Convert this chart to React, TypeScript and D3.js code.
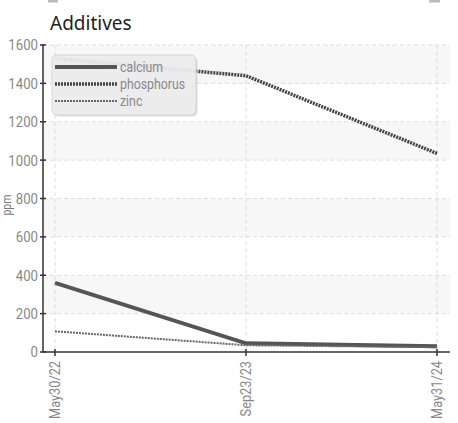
import { useEffect, useRef } from 'react'
import * as d3 from 'd3'

const dates = ['May30/22', 'Sep23/23', 'May31/24']
const calcium = [360, 45, 30]
const phosphorus = [1530, 1440, 1035]
const zinc = [108, 35, 25]
const yTicks = [0, 200, 400, 600, 800, 1000, 1200, 1400, 1600]

const series = [
	{ name: 'calcium', values: calcium, width: 4, dash: null, color: '#555' },
	{ name: 'phosphorus', values: phosphorus, width: 3.5, dash: '2,1', color: '#444' },
	{ name: 'zinc', values: zinc, width: 2, dash: '2,1', color: '#666' },
]

const labelFont = "Roboto, 'Noto Sans', sans-serif"
// squeeze Roboto so it reads like the condensed face of the original
const squeeze = 0.88

export default function App() {
	const ref = useRef(null)

	const margins = { top: 45, right: 8, bottom: 71, left: 43 }
	const width = 458
	const height = 423
	const plotBottom = height - margins.bottom
	const plotRight = width - margins.right

	useEffect(() => {
		const svg = d3.select(ref.current)
		svg.selectAll('*').remove()

		const x = d3.scalePoint().domain(dates).range([55, 437])
		const y = d3.scaleLinear().domain([0, 1600]).range([plotBottom, margins.top])

		const narrowText = (parent: any, tx: number, ty: number, size: number, rotate = 0) =>
			parent
				.append('text')
				.attr(
					'transform',
					'translate(' + tx + ',' + ty + ')' + (rotate ? ' rotate(' + rotate + ')' : '') + ' scale(' + squeeze + ',1)'
				)
				.style('font', size + 'px ' + labelFont)

		// faint bars at the very top
		svg.append('rect').attr('x', 48).attr('y', 0).attr('width', 10).attr('height', 2.5).attr('fill', '#bbb')
		svg.append('rect').attr('x', 429).attr('y', 0).attr('width', 11).attr('height', 2.5).attr('fill', '#bbb')

		// title
		svg
			.append('text')
			.attr('x', 50)
			.attr('y', 30)
			.style('font', "19px 'Noto Sans', sans-serif")
			.attr('fill', '#222')
			.text('Additives')

		// alternating bands
		const bands = d3.range(0, yTicks.length - 1).filter((i) => i % 2 === 1)
		svg
			.append('g')
			.selectAll('rect')
			.data(bands)
			.enter()
			.append('rect')
			.attr('x', margins.left)
			.attr('y', (i) => y(yTicks[i + 1]))
			.attr('width', plotRight - margins.left)
			.attr('height', (i) => y(yTicks[i]) - y(yTicks[i + 1]))
			.attr('fill', '#f7f7f7')

		// grid
		svg
			.append('g')
			.selectAll('line')
			.data(yTicks.slice(1))
			.enter()
			.append('line')
			.attr('x1', margins.left)
			.attr('x2', plotRight)
			.attr('y1', (d) => y(d))
			.attr('y2', (d) => y(d))
			.attr('stroke', '#ddd')
			.attr('stroke-dasharray', '4,3')
		svg
			.append('g')
			.selectAll('line')
			.data(dates)
			.enter()
			.append('line')
			.attr('x1', (d) => x(d))
			.attr('x2', (d) => x(d))
			.attr('y1', margins.top)
			.attr('y2', plotBottom)
			.attr('stroke', '#ddd')
			.attr('stroke-dasharray', '4,3')

		// lines
		const line = d3
			.line<number>()
			.x((_, i) => x(dates[i]))
			.y((d) => y(d))
		series.forEach((s) => {
			svg
				.append('path')
				.datum(s.values)
				.attr('d', line)
				.attr('fill', 'none')
				.attr('stroke', s.color)
				.attr('stroke-width', s.width)
				.attr('stroke-dasharray', s.dash)
		})

		// y axis
		const yAxis = svg.append('g')
		yAxis
			.append('line')
			.attr('x1', margins.left)
			.attr('x2', margins.left)
			.attr('y1', margins.top - 1)
			.attr('y2', plotBottom)
			.attr('stroke', '#333')
			.attr('stroke-width', 1.5)
		yTicks.forEach((t) => {
			yAxis
				.append('line')
				.attr('x1', margins.left - 3)
				.attr('x2', margins.left + 3)
				.attr('y1', y(t))
				.attr('y2', y(t))
				.attr('stroke', '#333')
				.attr('stroke-width', 1.5)
			narrowText(yAxis, margins.left - 5, y(t), 15)
				.attr('dy', '0.36em')
				.style('text-anchor', 'end')
				.attr('fill', '#888')
				.text(t)
		})

		// y label
		narrowText(svg, 11, 205, 12, -90)
			.style('text-anchor', 'middle')
			.attr('fill', '#777')
			.text('ppm')

		// x axis
		const xAxis = svg.append('g')
		xAxis
			.append('line')
			.attr('x1', margins.left)
			.attr('x2', plotRight)
			.attr('y1', plotBottom)
			.attr('y2', plotBottom)
			.attr('stroke', '#333')
			.attr('stroke-width', 1.5)
		dates.forEach((d) => {
			xAxis
				.append('line')
				.attr('x1', x(d))
				.attr('x2', x(d))
				.attr('y1', plotBottom - 3)
				.attr('y2', plotBottom + 4)
				.attr('stroke', '#333')
				.attr('stroke-width', 1.5)
			narrowText(xAxis, x(d) as number, plotBottom + 9, 14.5, -90)
				.attr('dy', '0.36em')
				.style('text-anchor', 'end')
				.attr('fill', '#888')
				.text(d)
		})

		// legend
		const legend = svg.append('g').attr('transform', 'translate(52,55)')
		legend
			.append('rect')
			.attr('x', 1.5)
			.attr('y', 1.5)
			.attr('width', 144)
			.attr('height', 60)
			.attr('rx', 5)
			.attr('fill', '#bbb')
			.attr('opacity', 0.5)
		legend
			.append('rect')
			.attr('width', 144)
			.attr('height', 60)
			.attr('rx', 5)
			.attr('fill', 'rgba(238,238,238,0.88)')
			.attr('stroke', '#d4d4d4')
		series.forEach((s, i) => {
			const ly = 12 + i * 17
			legend
				.append('line')
				.attr('x1', 3)
				.attr('x2', 65)
				.attr('y1', ly)
				.attr('y2', ly)
				.attr('stroke', s.color)
				.attr('stroke-width', s.width)
				.attr('stroke-dasharray', s.dash)
			narrowText(legend, 68, ly, 14)
				.attr('dy', '0.35em')
				.attr('fill', '#888')
				.text(s.name)
		})
	})

	return (
		<svg
			ref={ref}
			width={width}
			height={height}
			style={{ position: 'absolute', left: 0, top: 0 }}
		/>
	)
}
